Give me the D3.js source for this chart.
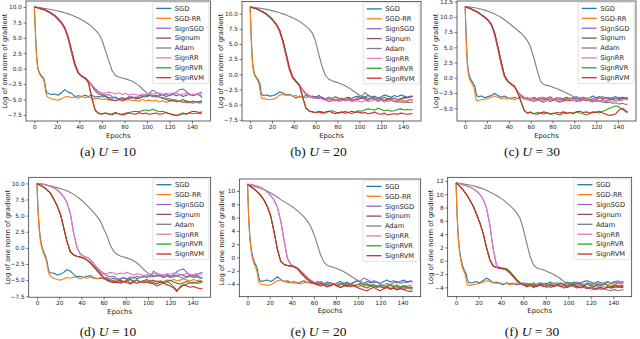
<!DOCTYPE html>
<html>
<head>
<meta charset="utf-8">
<script src="https://cdn.jsdelivr.net/npm/d3@7"></script>
<style>
  body { margin: 0; background: #fff; }
  svg { display: block; }
</style>
</head>
<body>
<div id="chart"></div>
<script>
var epochs = [0, 1, 2, 3, 4, 5, 6, 7, 8, 9, 10, 11, 12,
  15, 18, 21, 24, 27, 30, 33, 36, 39, 42, 45, 48, 51, 54, 57,
  60, 63, 66, 69, 72, 75, 78, 81, 84, 87, 90, 93, 96, 99, 102,
  105, 108, 111, 114, 117, 120, 123, 126, 129, 132, 135, 138, 141, 144, 147, 149];

var names = ["SGD", "SGD-RR", "SignSGD", "Signum", "Adam", "SignRR", "SignRVR", "SignRVM"];
var colors = ["#1f77b4", "#ff7f0e", "#9467bd", "#8c564b", "#7f7f7f", "#e377c2", "#2ca02c", "#d62728"];
var xTicks = [0, 20, 40, 60, 80, 100, 120, 140];
var yTicksHalf = [-7.5, -5, -2.5, 0, 2.5, 5, 7.5, 10, 12.5];
var yTicksTwo = [-4, -2, 0, 2, 4, 6, 8, 10, 12];

// (a) U = 10
var a_SGD = [10.0, 5.6, 2.0, 0.3, -0.4, -0.8, -1.1, -1.3, -1.5, -1.9, -3.3, -3.9, -4.0,
  -4.2, -4.1, -4.3, -3.9, -3.4, -3.8, -4.0, -4.5, -4.4, -4.5, -4.3, -4.5, -4.3, -4.6, -4.5,
  -4.6, -4.4, -4.7, -4.8, -4.6, -4.9, -4.7, -5.0, -4.8, -4.6, -4.9, -4.7, -4.5, -4.6, -4.4,
  -4.3, -4.6, -4.4, -4.2, -4.5, -4.3, -4.1, -4.4, -4.2, -4.5, -4.3, -4.1, -4.4, -4.2, -4.3, -4.7];
var a_SGDRR = [10.0, 5.3, 1.6, 0.0, -0.6, -1.0, -1.3, -1.5, -1.7, -2.4, -3.8, -4.4, -4.6,
  -4.9, -5.0, -5.1, -4.9, -4.6, -4.5, -4.7, -4.6, -4.8, -4.5, -4.7, -4.6, -4.8, -4.9, -4.8,
  -5.0, -4.9, -5.1, -5.0, -5.2, -5.0, -5.3, -5.1, -5.0, -5.2, -5.1, -5.3, -5.0, -5.2, -5.1,
  -5.3, -5.1, -5.4, -5.2, -5.5, -5.3, -5.2, -5.4, -5.3, -5.5, -5.2, -5.4, -5.3, -5.5, -5.6, -5.4];
var a_SignSGD = [10.0, 10.0, 9.95, 9.9, 9.85, 9.8, 9.7, 9.65, 9.6, 9.5, 9.45, 9.35, 9.25,
  8.95, 8.55, 8.0, 7.4, 6.5, 4.9, 2.6, 0.5, -0.7, -1.2, -1.5, -2.0, -2.6, -3.3, -3.8,
  -4.1, -4.3, -4.2, -4.5, -4.8, -5.0, -4.7, -4.9, -4.5, -4.6, -4.8, -4.4, -4.3, -4.2, -4.0,
  -3.5, -3.8, -4.2, -4.3, -4.1, -4.4, -4.2, -3.8, -3.4, -3.3, -3.7, -4.2, -4.3, -4.1, -3.9, -3.8];
var a_Signum = [10.0, 10.0, 9.95, 9.9, 9.85, 9.8, 9.75, 9.7, 9.6, 9.55, 9.5, 9.4, 9.3,
  9.0, 8.6, 8.1, 7.5, 6.6, 5.0, 2.8, 0.6, -0.7, -1.2, -1.5, -2.0, -2.8, -3.6, -4.1,
  -4.3, -4.5, -4.9, -5.1, -5.2, -5.0, -5.1, -4.9, -4.7, -4.8, -4.6, -4.9, -4.5, -4.4, -4.3,
  -4.5, -4.3, -4.6, -4.8, -5.0, -5.2, -5.1, -5.3, -5.2, -5.0, -5.3, -5.4, -5.3, -5.4, -5.3, -5.2];
var a_Adam = [10.0, 9.98, 9.96, 9.94, 9.92, 9.9, 9.87, 9.84, 9.81, 9.78, 9.75, 9.72, 9.69,
  9.6, 9.48, 9.36, 9.22, 9.07, 8.9, 8.7, 8.48, 8.22, 7.95, 7.62, 7.25, 6.82, 6.3, 5.7,
  4.7, 3.0, 1.3, -0.3, -1.1, -1.35, -1.5, -1.65, -1.85, -2.05, -2.35, -2.8, -3.3, -3.8, -4.2,
  -4.4, -4.5, -4.6, -4.7, -4.8, -4.9, -5.0, -5.1, -5.3, -5.4, -5.5, -5.5, -5.6, -5.4, -5.5, -5.4];
var a_SignRR = [10.0, 9.95, 9.9, 9.85, 9.8, 9.75, 9.7, 9.6, 9.55, 9.5, 9.4, 9.3, 9.2,
  8.9, 8.5, 7.9, 7.3, 6.4, 4.8, 2.5, 0.4, -0.8, -1.3, -1.6, -2.0, -2.6, -3.2, -3.7,
  -3.9, -4.0, -3.8, -3.9, -4.1, -3.9, -4.2, -4.0, -4.3, -4.1, -4.2, -4.3, -4.1, -4.2, -4.0,
  -4.1, -4.0, -3.9, -4.2, -4.0, -4.1, -3.9, -4.0, -4.2, -4.1, -4.0, -4.3, -4.1, -4.2, -4.1, -4.2];
var a_SignRVR = [10.0, 10.0, 9.95, 9.9, 9.85, 9.8, 9.75, 9.7, 9.65, 9.55, 9.5, 9.4, 9.3,
  9.0, 8.6, 8.1, 7.5, 6.6, 5.1, 2.9, 0.7, -0.7, -1.2, -1.5, -2.3, -4.8, -6.8, -7.3,
  -7.4, -7.2, -7.3, -7.5, -7.2, -7.3, -7.4, -7.2, -7.1, -7.0, -6.9, -7.0, -6.8, -6.7, -6.8,
  -6.6, -6.8, -7.0, -6.9, -7.1, -7.3, -7.4, -7.6, -7.5, -7.3, -7.4, -7.2, -7.3, -7.2, -7.3, -7.2];
var a_SignRVM = [10.0, 10.0, 9.95, 9.9, 9.85, 9.8, 9.75, 9.7, 9.65, 9.6, 9.5, 9.45, 9.35,
  9.05, 8.65, 8.15, 7.55, 6.7, 5.2, 3.0, 0.8, -0.6, -1.2, -1.5, -2.2, -4.6, -6.7, -7.2,
  -7.3, -7.2, -7.4, -7.3, -7.1, -7.3, -7.5, -7.4, -7.2, -7.3, -7.4, -7.1, -7.3, -7.2, -7.4,
  -7.3, -7.2, -7.4, -7.3, -7.1, -7.3, -7.5, -7.6, -7.4, -7.2, -7.3, -7.1, -6.9, -7.0, -7.1, -7.0];

// (b) U = 20
var b_SGD = [11.1, 6.2, 2.4, 0.9, 0.1, -0.3, -0.6, -0.8, -1.1, -1.6, -3.0, -3.4, -3.5,
  -3.4, -3.6, -3.5, -3.3, -2.9, -3.1, -3.4, -3.3, -3.6, -3.9, -3.6, -3.8, -3.5, -3.7, -3.6,
  -3.8, -3.5, -3.9, -4.1, -3.8, -4.0, -3.7, -3.9, -4.2, -3.9, -3.8, -4.0, -3.7, -3.6, -3.9,
  -3.7, -3.5, -3.8, -3.6, -3.9, -3.7, -3.4, -3.6, -3.8, -3.5, -3.7, -3.4, -3.6, -3.8, -3.6, -3.7];
var b_SGDRR = [11.1, 5.8, 2.0, 0.5, -0.2, -0.5, -0.8, -1.1, -1.5, -2.6, -3.7, -4.0, -4.0,
  -4.1, -4.2, -4.1, -3.9, -3.4, -3.3, -3.5, -3.4, -3.6, -3.5, -3.8, -3.6, -3.9, -3.7, -3.8,
  -3.9, -4.0, -3.8, -4.1, -3.9, -4.0, -4.2, -4.0, -3.9, -4.1, -4.3, -4.0, -4.2, -4.1, -3.9,
  -4.1, -4.3, -4.0, -4.2, -4.4, -4.1, -4.3, -4.2, -4.0, -4.3, -4.5, -4.2, -4.4, -4.3, -4.1, -4.2];
var b_SignSGD = [11.1, 11.05, 11.0, 10.95, 10.9, 10.85, 10.8, 10.7, 10.6, 10.5, 10.42, 10.33, 10.23,
  9.85, 9.4, 8.85, 8.15, 7.1, 5.3, 3.0, 0.7, -0.6, -1.2, -1.8, -2.5, -3.1, -3.5, -3.8,
  -3.9, -3.6, -3.9, -4.1, -3.8, -4.2, -4.4, -4.1, -4.0, -4.3, -4.2, -4.4, -4.1, -3.8, -3.7,
  -3.0, -3.4, -3.7, -3.9, -3.8, -4.1, -4.3, -4.0, -4.2, -4.5, -4.3, -4.1, -4.0, -3.8, -3.7, -3.7];
var b_Signum = [11.1, 11.05, 11.0, 10.95, 10.9, 10.85, 10.8, 10.7, 10.6, 10.52, 10.43, 10.34, 10.25,
  9.9, 9.45, 8.9, 8.2, 7.2, 5.5, 3.2, 0.9, -0.5, -1.2, -1.8, -2.6, -3.3, -3.6, -3.9,
  -3.7, -4.0, -3.8, -4.2, -4.5, -4.3, -4.1, -4.4, -4.2, -4.3, -4.0, -4.2, -4.4, -4.1, -3.9,
  -4.0, -4.2, -3.9, -4.1, -4.3, -4.0, -3.8, -4.1, -4.0, -3.9, -4.2, -4.0, -3.8, -3.9, -3.7, -3.6];
var b_Adam = [11.1, 11.08, 11.06, 11.04, 11.02, 11.0, 10.97, 10.94, 10.91, 10.88, 10.85, 10.82, 10.79,
  10.7, 10.58, 10.45, 10.3, 10.14, 9.96, 9.76, 9.54, 9.3, 9.03, 8.72, 8.36, 7.95, 7.45, 6.8,
  5.4, 3.2, 1.2, -0.2, -0.8, -1.05, -1.25, -1.45, -1.65, -1.9, -2.2, -2.55, -2.95, -3.3, -3.6,
  -3.8, -3.9, -4.0, -4.1, -4.0, -4.2, -4.3, -4.4, -4.3, -4.5, -4.6, -4.5, -4.7, -4.6, -4.7, -4.6];
var b_SignRR = [11.1, 11.05, 11.0, 10.95, 10.9, 10.84, 10.78, 10.68, 10.58, 10.48, 10.4, 10.3, 10.2,
  9.8, 9.35, 8.8, 8.1, 7.0, 5.2, 2.9, 0.6, -0.7, -1.3, -1.9, -2.6, -3.2, -3.6, -3.8,
  -4.0, -3.8, -4.1, -4.3, -4.1, -4.4, -4.2, -4.5, -4.3, -4.4, -4.2, -4.5, -4.3, -4.4, -4.6,
  -4.3, -4.5, -4.4, -4.2, -4.5, -4.3, -4.6, -4.4, -4.2, -4.5, -4.3, -4.6, -4.4, -4.5, -4.2, -4.4];
var b_SignRVR = [11.1, 11.05, 11.0, 10.95, 10.9, 10.85, 10.8, 10.7, 10.6, 10.52, 10.43, 10.34, 10.25,
  9.9, 9.45, 8.9, 8.2, 7.2, 5.5, 3.3, 1.0, -0.5, -1.2, -1.8, -3.8, -5.6, -6.1, -6.2,
  -6.3, -6.1, -6.2, -6.4, -6.1, -6.0, -6.2, -6.4, -6.3, -6.1, -6.3, -6.5, -6.2, -6.0, -6.1,
  -5.9, -5.7, -5.8, -5.9, -5.6, -5.8, -6.0, -5.9, -6.1, -6.0, -5.8, -5.7, -5.9, -5.8, -5.9, -5.8];
var b_SignRVM = [11.1, 11.05, 11.0, 10.95, 10.9, 10.85, 10.8, 10.72, 10.62, 10.53, 10.45, 10.36, 10.27,
  9.95, 9.5, 8.95, 8.25, 7.3, 5.6, 3.4, 1.1, -0.4, -1.1, -1.7, -3.6, -5.5, -6.0, -6.2,
  -6.3, -6.2, -6.4, -6.2, -6.1, -6.3, -6.5, -6.3, -6.2, -6.4, -6.3, -6.1, -6.3, -6.2, -6.4,
  -6.3, -6.5, -6.4, -6.2, -6.5, -6.6, -6.4, -6.7, -6.6, -6.5, -6.6, -6.4, -6.5, -6.6, -6.5, -6.5];

// (c) U = 30
var c_SGD = [11.7, 6.5, 2.6, 1.0, 0.2, -0.2, -0.5, -0.8, -1.1, -1.5, -2.6, -3.0, -3.1,
  -3.0, -3.3, -3.1, -2.9, -2.6, -2.9, -3.2, -3.0, -3.3, -3.5, -3.2, -3.4, -3.1, -3.5, -3.3,
  -3.6, -3.2, -3.5, -3.3, -3.6, -3.4, -3.1, -3.5, -3.3, -3.6, -3.4, -3.2, -3.5, -3.3, -3.1,
  -3.4, -3.2, -3.5, -3.3, -3.0, -3.3, -3.1, -3.4, -3.2, -3.5, -3.3, -3.1, -3.4, -3.2, -3.3, -3.5];
var c_SGDRR = [11.7, 6.1, 2.2, 0.6, -0.2, -0.6, -0.9, -1.2, -1.6, -2.5, -3.6, -3.8, -3.7,
  -3.6, -3.5, -3.4, -3.2, -3.0, -3.2, -3.4, -3.3, -3.5, -3.3, -3.6, -3.4, -3.2, -3.4, -3.5,
  -3.3, -3.6, -3.4, -3.2, -3.5, -3.3, -3.6, -3.4, -3.5, -3.3, -3.6, -3.4, -3.3, -3.5, -3.4,
  -3.2, -3.5, -3.3, -3.6, -3.4, -3.5, -3.3, -3.6, -3.4, -3.2, -3.5, -3.3, -3.6, -3.4, -3.5, -3.7];
var c_SignSGD = [11.7, 11.63, 11.55, 11.47, 11.39, 11.31, 11.23, 11.15, 11.07, 10.98, 10.89, 10.8, 10.7,
  10.3, 9.9, 9.4, 8.7, 7.2, 4.8, 2.3, 0.2, -0.6, -1.0, -1.4, -2.3, -2.8, -3.2, -3.4,
  -3.6, -3.3, -3.7, -3.5, -3.2, -3.6, -3.4, -3.7, -3.5, -3.3, -3.6, -3.8, -3.5, -3.3, -3.6,
  -3.4, -3.2, -3.5, -3.7, -3.4, -3.6, -3.3, -3.1, -3.4, -3.6, -3.3, -3.5, -3.2, -3.4, -3.2, -3.3];
var c_Signum = [11.7, 11.63, 11.55, 11.47, 11.39, 11.31, 11.23, 11.15, 11.07, 10.98, 10.9, 10.81, 10.71,
  10.32, 9.93, 9.45, 8.75, 7.3, 5.0, 2.5, 0.3, -0.6, -1.0, -1.4, -2.3, -2.9, -3.3, -3.6,
  -3.7, -3.9, -3.6, -3.8, -4.0, -3.7, -3.9, -3.6, -3.8, -4.0, -3.7, -3.5, -3.8, -3.6, -3.9,
  -3.7, -3.5, -3.8, -3.6, -3.9, -3.7, -3.8, -3.6, -3.9, -3.7, -3.5, -3.8, -3.6, -3.4, -3.5, -3.4];
var c_Adam = [11.7, 11.68, 11.66, 11.64, 11.62, 11.6, 11.57, 11.54, 11.51, 11.48, 11.45, 11.42, 11.38,
  11.25, 11.1, 10.93, 10.72, 10.48, 10.2, 9.88, 9.52, 9.12, 8.7, 8.25, 7.8, 7.35, 6.8, 6.1,
  5.0, 3.2, 1.2, -0.6, -1.1, -1.25, -1.4, -1.6, -1.8, -2.0, -2.25, -2.5, -2.8, -3.1, -3.4,
  -3.6, -3.7, -3.6, -3.8, -3.7, -3.9, -3.8, -4.0, -4.1, -4.0, -4.2, -4.1, -4.3, -4.2, -4.4, -4.3];
var c_SignRR = [11.7, 11.63, 11.55, 11.47, 11.39, 11.3, 11.22, 11.13, 11.05, 10.96, 10.87, 10.77, 10.67,
  10.27, 9.85, 9.35, 8.6, 7.0, 4.6, 2.1, 0.1, -0.7, -1.1, -1.5, -2.3, -2.9, -3.3, -3.5,
  -3.7, -3.5, -3.8, -3.6, -3.9, -3.7, -3.4, -3.6, -3.8, -3.6, -3.9, -3.7, -3.5, -3.8, -3.6,
  -3.9, -3.7, -3.5, -3.8, -4.0, -3.7, -3.9, -3.6, -3.8, -3.7, -3.9, -3.6, -3.8, -3.7, -3.5, -3.6];
var c_SignRVR = [11.7, 11.63, 11.55, 11.47, 11.39, 11.31, 11.23, 11.15, 11.07, 10.98, 10.9, 10.81, 10.71,
  10.32, 9.93, 9.45, 8.78, 7.3, 5.0, 2.6, 0.3, -0.6, -1.0, -1.4, -2.4, -3.9, -5.4, -5.8,
  -5.6, -5.9, -5.7, -5.8, -6.0, -5.7, -5.9, -5.8, -6.0, -6.1, -5.8, -5.9, -5.7, -5.8, -5.6,
  -5.8, -5.9, -6.1, -5.9, -5.7, -5.6, -5.8, -5.5, -5.3, -5.0, -4.8, -4.6, -4.8, -5.2, -5.6, -5.7];
var c_SignRVM = [11.7, 11.63, 11.56, 11.48, 11.4, 11.32, 11.24, 11.16, 11.08, 10.99, 10.91, 10.82, 10.72,
  10.33, 9.95, 9.47, 8.8, 7.35, 5.1, 2.7, 0.4, -0.5, -1.0, -1.4, -2.4, -3.8, -5.3, -5.8,
  -5.7, -5.9, -6.0, -5.8, -5.6, -5.8, -6.0, -5.9, -5.7, -5.8, -5.6, -5.8, -5.7, -5.9, -5.6,
  -5.5, -5.7, -5.6, -5.8, -5.6, -5.7, -5.5, -5.8, -6.0, -6.2, -6.1, -5.9, -5.3, -5.0, -5.4, -5.6];

// (d) U = 10
var d_SGD = [10.0, 5.8, 3.2, 1.6, 0.6, -0.1, -0.6, -1.0, -1.4, -2.0, -3.1, -3.7, -3.9,
  -3.9, -4.2, -4.1, -3.8, -3.4, -3.6, -4.1, -4.5, -4.4, -4.6, -4.4, -4.3, -4.6, -4.8, -4.7,
  -4.8, -4.6, -4.9, -4.7, -5.0, -4.8, -4.6, -4.9, -4.7, -4.5, -4.8, -4.6, -4.4, -4.6, -4.3,
  -4.5, -4.2, -4.4, -4.6, -4.3, -4.5, -4.2, -4.4, -4.1, -4.3, -4.5, -4.2, -4.4, -4.3, -4.5, -4.7];
var d_SGDRR = [10.0, 5.4, 2.8, 1.2, 0.2, -0.4, -0.9, -1.3, -1.7, -2.4, -3.5, -4.1, -4.4,
  -4.7, -4.9, -5.0, -4.8, -4.6, -4.7, -4.5, -4.6, -4.8, -4.6, -4.7, -4.5, -4.7, -4.8, -4.6,
  -4.8, -5.0, -4.9, -5.1, -4.9, -5.0, -5.2, -5.0, -4.9, -5.1, -5.0, -5.3, -5.1, -5.2, -5.0,
  -5.3, -5.1, -5.4, -5.2, -5.0, -5.1, -4.9, -5.1, -5.0, -4.8, -5.0, -5.1, -4.9, -5.1, -5.0, -5.2];
var d_SignSGD = [10.0, 9.99, 9.97, 9.95, 9.93, 9.9, 9.87, 9.83, 9.79, 9.74, 9.68, 9.62, 9.55,
  9.33, 9.03, 8.55, 7.95, 7.05, 5.4, 2.4, 0.1, -0.9, -1.3, -1.5, -1.8, -2.4, -3.1, -3.7,
  -4.1, -4.3, -4.5, -4.4, -4.7, -4.9, -4.6, -4.8, -4.5, -4.7, -4.4, -4.6, -4.5, -4.3, -4.5,
  -3.6, -4.0, -4.4, -4.3, -4.1, -4.4, -4.2, -3.7, -3.4, -3.3, -3.8, -4.2, -4.4, -4.1, -3.9, -3.8];
var d_Signum = [10.0, 9.9, 9.8, 9.7, 9.6, 9.5, 9.4, 9.3, 9.15, 9.0, 8.85, 8.7, 8.5,
  7.6, 6.6, 5.3, 3.2, 1.0, -0.6, -1.1, -1.3, -1.4, -1.6, -1.9, -2.3, -2.9, -3.5, -4.1,
  -4.6, -4.9, -5.1, -5.3, -5.2, -5.0, -5.3, -5.1, -4.9, -5.2, -5.0, -5.3, -5.1, -4.9, -5.2,
  -5.0, -5.3, -5.1, -5.4, -5.2, -5.0, -5.3, -5.5, -5.6, -5.4, -5.2, -5.4, -5.3, -5.5, -5.4, -5.3];
var d_Adam = [10.0, 9.97, 9.94, 9.91, 9.88, 9.85, 9.82, 9.79, 9.76, 9.72, 9.68, 9.64, 9.6,
  9.48, 9.35, 9.2, 9.05, 8.85, 8.6, 8.3, 7.95, 7.55, 7.1, 6.6, 6.05, 5.5, 4.9, 4.2,
  3.0, 1.9, 0.4, -0.5, -1.0, -1.25, -1.4, -1.55, -1.75, -2.0, -2.35, -2.8, -3.35, -3.8, -4.1,
  -4.3, -4.4, -4.2, -4.5, -4.4, -4.6, -4.5, -4.3, -4.5, -4.7, -4.6, -4.4, -4.6, -4.5, -4.7, -4.6];
var d_SignRR = [10.0, 9.99, 9.97, 9.95, 9.92, 9.89, 9.86, 9.82, 9.78, 9.73, 9.67, 9.6, 9.52,
  9.3, 9.0, 8.5, 7.9, 7.0, 5.3, 2.3, 0.0, -1.0, -1.3, -1.5, -1.8, -2.4, -3.0, -3.5,
  -3.9, -4.0, -3.8, -3.9, -4.1, -3.9, -4.0, -3.8, -4.0, -4.2, -4.0, -4.1, -4.3, -4.2, -4.1,
  -4.0, -3.9, -4.1, -4.2, -4.0, -4.1, -3.9, -4.0, -4.2, -4.1, -4.0, -4.2, -4.1, -4.0, -4.1, -4.0];
var d_SignRVR = [10.0, 9.9, 9.8, 9.7, 9.6, 9.5, 9.4, 9.3, 9.15, 9.0, 8.85, 8.7, 8.5,
  7.6, 6.6, 5.3, 3.2, 1.0, -0.6, -1.1, -1.3, -1.4, -1.6, -1.9, -2.2, -2.8, -3.4, -4.0,
  -4.6, -5.0, -5.3, -5.1, -5.4, -5.2, -5.3, -5.1, -5.4, -5.2, -5.0, -5.3, -5.1, -5.2, -5.4,
  -5.6, -5.9, -5.7, -5.4, -5.2, -5.5, -6.0, -6.6, -6.2, -5.8, -5.6, -5.4, -5.5, -5.3, -5.2, -5.3];
var d_SignRVM = [10.0, 9.9, 9.8, 9.7, 9.6, 9.5, 9.4, 9.3, 9.15, 9.0, 8.85, 8.7, 8.5,
  7.6, 6.6, 5.3, 3.2, 1.0, -0.6, -1.1, -1.3, -1.4, -1.6, -1.9, -2.3, -2.9, -3.5, -4.1,
  -4.6, -5.0, -5.2, -5.4, -5.3, -5.5, -5.2, -5.4, -5.6, -5.3, -5.5, -5.2, -5.4, -5.3, -5.5,
  -5.4, -5.6, -5.3, -5.5, -5.7, -5.9, -6.2, -6.8, -6.0, -5.7, -5.9, -6.1, -6.0, -6.2, -6.3, -6.4];

// (e) U = 20
var e_SGD = [11.0, 6.2, 3.4, 1.7, 0.6, -0.1, -0.6, -1.0, -1.3, -1.8, -2.9, -3.4, -3.6,
  -3.5, -3.4, -3.6, -3.3, -2.9, -3.3, -3.6, -3.5, -3.8, -3.6, -3.9, -3.7, -3.5, -3.8, -3.7,
  -3.9, -3.6, -3.8, -4.0, -3.7, -3.9, -4.1, -3.8, -3.6, -3.9, -3.7, -4.0, -3.8, -3.5, -3.7,
  -3.9, -3.6, -3.8, -3.5, -3.7, -3.9, -3.6, -3.4, -3.7, -3.5, -3.8, -3.6, -3.4, -3.7, -3.5, -3.6];
var e_SGDRR = [11.0, 5.8, 3.0, 1.3, 0.2, -0.5, -1.0, -1.4, -1.8, -2.6, -3.6, -3.9, -4.0,
  -4.1, -4.2, -4.1, -3.8, -3.5, -3.4, -3.6, -3.8, -3.7, -3.9, -3.7, -4.0, -3.8, -3.7, -3.9,
  -3.8, -4.0, -3.7, -3.9, -4.1, -3.8, -4.0, -4.2, -3.9, -4.1, -3.8, -4.0, -4.2, -4.1, -3.9,
  -4.1, -4.3, -4.0, -4.2, -4.4, -4.1, -4.3, -4.5, -4.2, -4.4, -4.3, -4.5, -4.2, -4.4, -4.5, -4.5];
var e_SignSGD = [11.0, 10.99, 10.97, 10.95, 10.92, 10.89, 10.85, 10.81, 10.76, 10.71, 10.65, 10.58, 10.51,
  10.22, 9.82, 9.32, 8.62, 7.55, 5.5, 2.6, -0.1, -1.0, -1.3, -1.6, -2.0, -2.5, -3.0, -3.4,
  -3.7, -3.9, -3.6, -3.9, -4.1, -3.8, -4.0, -4.3, -3.9, -4.1, -3.8, -4.0, -3.7, -3.5, -3.6,
  -3.1, -3.3, -3.6, -3.8, -3.7, -4.0, -4.2, -3.9, -4.1, -3.8, -3.6, -3.9, -3.7, -3.8, -3.6, -3.7];
var e_Signum = [11.0, 10.88, 10.76, 10.64, 10.52, 10.4, 10.27, 10.13, 9.98, 9.82, 9.66, 9.49, 9.3,
  8.6, 7.6, 6.2, 3.8, 1.2, -0.6, -1.05, -1.2, -1.3, -1.4, -1.7, -2.3, -2.8, -3.3, -3.7,
  -3.9, -4.1, -4.3, -4.1, -4.4, -4.2, -4.0, -4.3, -4.5, -4.2, -4.4, -4.1, -4.3, -4.5, -4.2,
  -4.4, -4.6, -4.3, -4.5, -4.2, -4.4, -4.6, -4.4, -4.7, -4.5, -4.8, -4.6, -4.4, -4.6, -4.5, -4.7];
var e_Adam = [11.0, 10.95, 10.9, 10.85, 10.8, 10.75, 10.7, 10.65, 10.6, 10.55, 10.5, 10.45, 10.4,
  10.2, 9.95, 9.7, 9.4, 9.05, 8.7, 8.4, 8.1, 7.8, 7.45, 7.05, 6.6, 6.1, 5.5, 4.7,
  3.5, 2.0, 0.4, -0.7, -1.2, -1.35, -1.5, -1.7, -1.9, -2.15, -2.45, -2.75, -3.1, -3.4, -3.7,
  -3.9, -4.1, -4.3, -4.4, -4.5, -4.4, -4.6, -4.5, -4.6, -4.7, -4.5, -4.6, -4.8, -4.6, -4.7, -4.8];
var e_SignRR = [11.0, 10.99, 10.97, 10.95, 10.92, 10.88, 10.84, 10.8, 10.75, 10.7, 10.64, 10.57, 10.5,
  10.2, 9.8, 9.3, 8.6, 7.5, 5.4, 2.5, -0.2, -1.1, -1.35, -1.6, -2.0, -2.5, -3.0, -3.5,
  -3.8, -4.0, -3.8, -4.1, -3.9, -4.2, -4.0, -3.8, -4.1, -3.9, -4.2, -4.0, -4.3, -4.1, -4.0,
  -3.8, -4.0, -4.2, -4.1, -4.3, -4.1, -4.4, -4.2, -4.0, -4.3, -4.1, -4.4, -4.2, -4.3, -4.2, -4.3];
var e_SignRVR = [11.0, 10.88, 10.76, 10.64, 10.52, 10.4, 10.27, 10.13, 9.98, 9.82, 9.66, 9.49, 9.3,
  8.6, 7.6, 6.2, 3.8, 1.2, -0.6, -1.05, -1.2, -1.3, -1.4, -1.6, -2.1, -2.7, -3.2, -3.6,
  -3.9, -4.0, -4.2, -3.9, -4.1, -4.3, -4.0, -4.2, -4.1, -3.9, -4.2, -4.0, -4.3, -4.1, -3.9,
  -4.2, -4.0, -4.3, -4.1, -4.4, -4.2, -4.5, -4.3, -4.1, -4.4, -4.2, -4.5, -4.3, -4.4, -4.6, -4.5];
var e_SignRVM = [11.0, 10.88, 10.76, 10.64, 10.52, 10.4, 10.27, 10.13, 9.98, 9.82, 9.66, 9.49, 9.3,
  8.6, 7.6, 6.2, 3.8, 1.2, -0.6, -1.05, -1.2, -1.3, -1.4, -1.7, -2.3, -2.8, -3.3, -3.7,
  -3.9, -4.1, -3.9, -4.2, -4.4, -4.2, -4.0, -4.3, -4.5, -4.3, -4.1, -4.4, -4.2, -4.5, -4.7,
  -4.9, -5.0, -4.7, -4.5, -4.8, -5.0, -4.7, -4.5, -4.8, -4.6, -4.9, -4.7, -4.8, -5.0, -5.1, -5.1];

// (f) U = 30
var f_SGD = [11.7, 6.8, 3.6, 1.8, 0.6, -0.2, -0.8, -1.3, -1.6, -2.0, -2.8, -3.2, -3.3,
  -3.3, -3.1, -3.3, -3.0, -2.6, -2.9, -3.3, -3.2, -3.4, -3.6, -3.3, -3.5, -3.4, -3.6, -3.5,
  -3.3, -3.6, -3.4, -3.7, -3.5, -3.3, -3.5, -3.4, -3.2, -3.5, -3.3, -3.6, -3.4, -3.2, -3.4,
  -3.2, -3.5, -3.3, -3.1, -3.0, -3.2, -3.4, -3.1, -3.3, -3.5, -3.2, -3.4, -3.1, -3.3, -3.2, -3.3];
var f_SGDRR = [11.7, 6.4, 3.2, 1.4, 0.2, -0.6, -1.2, -1.6, -2.0, -2.8, -3.6, -3.7, -3.7,
  -3.6, -3.5, -3.4, -3.2, -3.0, -3.1, -3.3, -3.4, -3.3, -3.5, -3.4, -3.6, -3.5, -3.3, -3.5,
  -3.6, -3.4, -3.5, -3.3, -3.6, -3.4, -3.5, -3.7, -3.5, -3.3, -3.6, -3.4, -3.5, -3.3, -3.6,
  -3.4, -3.5, -3.3, -3.6, -3.4, -3.5, -3.3, -3.6, -3.5, -3.4, -3.6, -3.5, -3.3, -3.5, -3.4, -3.4];
var f_SignSGD = [11.7, 11.67, 11.64, 11.6, 11.55, 11.5, 11.45, 11.4, 11.35, 11.3, 11.24, 11.17, 11.1,
  10.85, 10.5, 10.0, 9.3, 8.0, 5.5, 1.9, -0.6, -1.1, -1.25, -1.4, -1.8, -2.4, -3.0, -3.4,
  -3.6, -3.8, -3.5, -3.7, -3.9, -3.6, -3.4, -3.7, -3.5, -3.8, -3.6, -3.4, -3.7, -3.5, -3.3,
  -3.5, -3.2, -3.4, -3.6, -3.3, -3.5, -3.7, -3.4, -3.6, -3.3, -3.1, -3.4, -3.2, -3.0, -3.2, -3.1];
var f_Signum = [11.7, 11.55, 11.4, 11.25, 11.1, 10.9, 10.7, 10.5, 10.25, 10.05, 9.8, 9.5, 9.2,
  8.3, 7.1, 5.8, 4.2, 2.1, 0.2, -0.8, -1.0, -1.1, -1.2, -1.35, -1.8, -2.35, -2.9, -3.35,
  -3.6, -3.8, -3.6, -3.9, -3.7, -3.5, -3.8, -4.0, -3.7, -3.9, -3.6, -3.8, -4.1, -3.9, -3.7,
  -3.9, -4.1, -3.8, -4.0, -4.2, -3.9, -4.1, -4.3, -4.0, -4.2, -3.9, -4.1, -4.0, -3.8, -4.0, -4.0];
var f_Adam = [11.7, 11.68, 11.66, 11.64, 11.62, 11.6, 11.57, 11.54, 11.51, 11.48, 11.45, 11.42, 11.38,
  11.28, 11.15, 11.0, 10.82, 10.6, 10.35, 10.08, 9.8, 9.5, 9.15, 8.75, 8.3, 7.8, 7.2, 6.4,
  4.7, 2.6, 0.6, -0.6, -1.1, -1.25, -1.4, -1.6, -1.8, -2.05, -2.35, -2.7, -3.1, -3.4, -3.6,
  -3.7, -3.9, -3.8, -4.0, -4.1, -3.9, -4.2, -4.1, -4.3, -4.2, -4.4, -4.5, -4.3, -4.5, -4.4, -4.3];
var f_SignRR = [11.7, 11.67, 11.64, 11.6, 11.55, 11.5, 11.45, 11.4, 11.35, 11.3, 11.24, 11.17, 11.1,
  10.85, 10.5, 10.0, 9.3, 8.0, 5.5, 1.8, -0.7, -1.1, -1.25, -1.4, -1.8, -2.4, -3.0, -3.4,
  -3.6, -3.5, -3.7, -3.4, -3.6, -3.8, -3.5, -3.7, -3.4, -3.6, -3.8, -3.5, -3.7, -3.9, -3.6,
  -3.8, -3.6, -3.9, -3.7, -3.5, -3.8, -3.6, -3.9, -3.7, -3.9, -4.1, -3.8, -3.6, -3.4, -3.2, -3.3];
var f_SignRVR = [11.7, 11.55, 11.4, 11.25, 11.1, 10.9, 10.7, 10.5, 10.25, 10.05, 9.8, 9.5, 9.2,
  8.3, 7.1, 5.8, 4.2, 2.1, 0.2, -0.8, -1.0, -1.05, -1.1, -1.2, -1.6, -2.2, -2.8, -3.3,
  -3.6, -3.4, -3.7, -3.5, -3.8, -3.6, -3.4, -3.7, -3.5, -3.8, -3.6, -3.3, -3.6, -3.8, -3.5,
  -3.7, -3.4, -3.6, -3.8, -3.5, -3.7, -3.9, -3.6, -3.8, -3.5, -3.7, -3.9, -3.6, -3.8, -3.7, -3.7];
var f_SignRVM = [11.7, 11.55, 11.4, 11.25, 11.1, 10.9, 10.7, 10.5, 10.25, 10.05, 9.8, 9.5, 9.2,
  8.3, 7.1, 5.8, 4.2, 2.1, 0.2, -0.8, -1.0, -1.1, -1.2, -1.35, -1.8, -2.35, -2.9, -3.35,
  -3.6, -3.9, -3.7, -4.0, -3.8, -3.6, -3.9, -3.7, -4.0, -3.8, -3.6, -3.9, -3.7, -4.0, -3.8,
  -3.6, -3.9, -4.1, -3.8, -4.0, -4.2, -4.3, -4.1, -4.0, -4.2, -3.9, -4.1, -3.8, -4.0, -3.9, -3.8];

// layout of the six sub-figures (pixel boxes)
var panels = [
  {id: "a", u: 10, series: [a_SGD, a_SGDRR, a_SignSGD, a_Signum, a_Adam, a_SignRR, a_SignRVR, a_SignRVM],
   left: 26, right: 210.5, top: 1, bottom: 121, yDomain: [-8.49, 10.99], yTicks: yTicksHalf, fmt: ".1f", labelOff: 21, capX: 108, capY: 155.5},
  {id: "b", u: 20, series: [b_SGD, b_SGDRR, b_SignSGD, b_Signum, b_Adam, b_SignRR, b_SignRVR, b_SignRVM],
   left: 242, right: 421, top: 1.5, bottom: 121, yDomain: [-7.7, 12.0], yTicks: yTicksHalf, fmt: ".1f", labelOff: 21, capX: 318.5, capY: 155.5},
  {id: "c", u: 30, series: [c_SGD, c_SGDRR, c_SignSGD, c_Signum, c_Adam, c_SignRR, c_SignRVR, c_SignRVM],
   left: 457, right: 636, top: 1, bottom: 121, yDomain: [-7.1, 12.6], yTicks: yTicksHalf, fmt: ".1f", labelOff: 21, capX: 532, capY: 155.5},
  {id: "d", u: 10, series: [d_SGD, d_SGDRR, d_SignSGD, d_Signum, d_Adam, d_SignRR, d_SignRVR, d_SignRVM],
   left: 28.7, right: 210.7, top: 177.3, bottom: 297.2, yDomain: [-7.65, 10.95], yTicks: yTicksHalf, fmt: ".1f", labelOff: 21.5, capX: 108, capY: 335.5},
  {id: "e", u: 20, series: [e_SGD, e_SGDRR, e_SignSGD, e_Signum, e_Adam, e_SignRR, e_SignRVR, e_SignRVM],
   left: 239.3, right: 420.7, top: 179, bottom: 296.7, yDomain: [-5.9, 11.8], yTicks: yTicksTwo, fmt: "d", labelOff: 18, capX: 318.5, capY: 335.5},
  {id: "f", u: 30, series: [f_SGD, f_SGDRR, f_SignSGD, f_Signum, f_Adam, f_SignRR, f_SignRVR, f_SignRVM],
   left: 447.7, right: 631.7, top: 177.3, bottom: 296.7, yDomain: [-5.4, 12.55], yTicks: yTicksTwo, fmt: "d", labelOff: 17, capX: 532, capY: 335.5}
];

var svg = d3.select("#chart").append("svg")
    .attr("width", 640)
    .attr("height", 339)
    .style("font-family", "'DejaVu Sans', sans-serif");

panels.forEach(function(p) {
    var x = d3.scaleLinear().domain([-7.45, 156.45]).range([p.left, p.right]);
    var y = d3.scaleLinear().domain(p.yDomain).range([p.bottom, p.top]);
    var g = svg.append("g");

    g.append("clipPath").attr("id", "clip-" + p.id)
      .append("rect")
        .attr("x", p.left).attr("y", p.top)
        .attr("width", p.right - p.left).attr("height", p.bottom - p.top);

    // x axis
    var xa = g.append("g")
        .attr("transform", "translate(0," + p.bottom + ")")
        .call(d3.axisBottom(x).tickValues(xTicks).tickSize(2.5).tickSizeOuter(0).tickPadding(1.6));
    xa.select(".domain").remove();

    // y axis
    var ya = g.append("g")
        .attr("transform", "translate(" + p.left + ",0)")
        .call(d3.axisLeft(y).tickValues(p.yTicks.filter(function(t) { return t >= p.yDomain[0] && t <= p.yDomain[1]; }))
          .tickFormat(d3.format(p.fmt)).tickSize(2.5).tickSizeOuter(0).tickPadding(1.6));
    ya.select(".domain").remove();

    [xa, ya].forEach(function(ax) {
        ax.attr("font-size", 5.8).attr("font-family", "'DejaVu Sans', sans-serif");
        ax.selectAll("line").attr("stroke", "#222").attr("stroke-width", 0.6);
        ax.selectAll("text").attr("fill", "#222");
    });

    // series
    var line = d3.line()
        .x(function(d, i) { return x(epochs[i]); })
        .y(function(d) { return y(d); });

    g.append("g").attr("clip-path", "url(#clip-" + p.id + ")")
      .selectAll("path")
        .data(p.series)
      .enter().append("path")
        .attr("d", line)
        .attr("fill", "none")
        .attr("stroke", function(d, i) { return colors[i]; })
        .attr("stroke-width", 1.1)
        .attr("stroke-linejoin", "round");

    // frame
    g.append("rect")
        .attr("x", p.left).attr("y", p.top)
        .attr("width", p.right - p.left).attr("height", p.bottom - p.top)
        .attr("fill", "none").attr("stroke", "#222").attr("stroke-width", 0.7);

    // axis titles
    g.append("text")
        .attr("x", (p.left + p.right) / 2).attr("y", p.bottom + 16.5)
        .attr("text-anchor", "middle").attr("font-size", 6.9).attr("fill", "#222")
        .text("Epochs");

    g.append("text")
        .attr("transform", "translate(" + (p.left - p.labelOff) + "," + ((p.top + p.bottom) / 2) + ") rotate(-90)")
        .attr("text-anchor", "middle").attr("dy", "0.35em").attr("font-size", 6.8).attr("fill", "#222")
        .text("Log of one norm of gradient");

    // legend
    var lw = 56, lh = 81;
    var lg = g.append("g")
        .attr("transform", "translate(" + (p.right - 1.8 - lw) + "," + (p.top + 1.4) + ")");
    lg.append("rect")
        .attr("width", lw).attr("height", lh).attr("rx", 1.5)
        .attr("fill", "#fff").attr("fill-opacity", 0.8)
        .attr("stroke", "#ccc").attr("stroke-width", 0.6);
    var row = lg.selectAll(".row")
        .data(names)
      .enter().append("g")
        .attr("transform", function(d, i) { return "translate(0," + (6 + i * 9.9) + ")"; });
    row.append("line")
        .attr("x1", 3.5).attr("x2", 18.5)
        .attr("stroke", function(d, i) { return colors[i]; })
        .attr("stroke-width", 1.3);
    row.append("text")
        .attr("x", 22).attr("dy", "0.35em")
        .attr("font-size", 6.7).attr("fill", "#222")
        .text(function(d) { return d; });

    // caption under the panel
    var cap = g.append("text")
        .attr("x", p.capX).attr("y", p.capY)
        .attr("text-anchor", "middle")
        .attr("font-family", "'Liberation Serif', 'DejaVu Serif', serif")
        .attr("font-size", 13.5).attr("fill", "#111");
    cap.append("tspan").text("(" + p.id + ") ");
    cap.append("tspan").attr("font-style", "italic").text("U");
    cap.append("tspan").text(" = " + p.u);
});
</script>
</body>
</html>
